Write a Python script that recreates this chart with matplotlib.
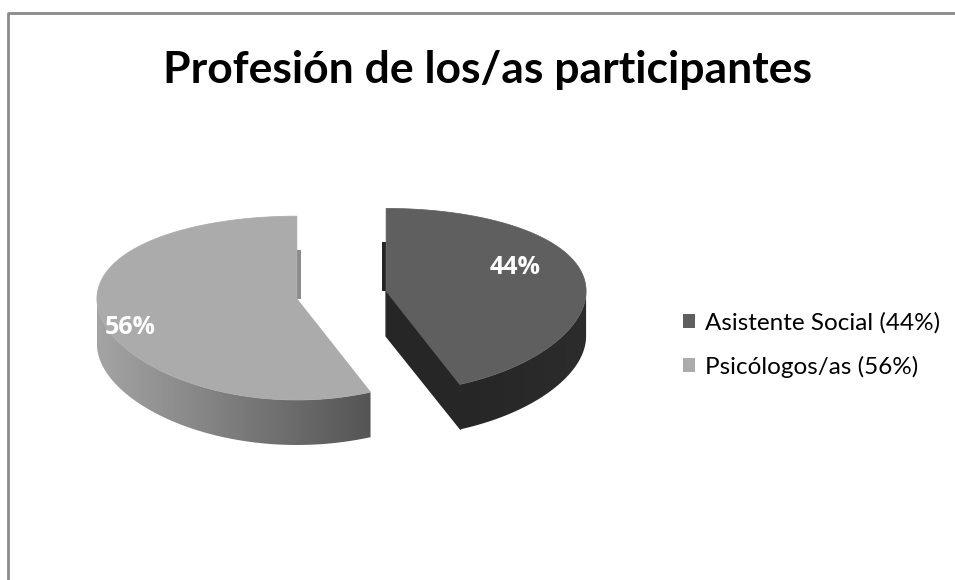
import matplotlib
matplotlib.use("Agg")
import matplotlib.pyplot as plt
from matplotlib.patches import Polygon, Patch
import numpy as np

# data
labels = ["Asistente Social (44%)", "Psicólogos/as (56%)"]
values = [44, 56]
pct_labels = ["44%", "56%"]
title = "Profesión de los/as participantes"

top_colors = ["#5f5f5f", "#ababab"]
side_left = ["#262626", "#a4a4a4"]
side_right = ["#2c2c2c", "#555555"]
cut_colors = ["#262626", "#8c8c8c"]

W, H = 955, 580
fig = plt.figure(figsize=(W / 100, H / 100), dpi=100)
ax = fig.add_axes([0, 0, 1, 1])
ax.set_xlim(0, W)
ax.set_ylim(H, 0)
ax.axis("off")

# pie geometry in pixels (y down), mild perspective: front taller than back
cx, cy = 341.5, 295
a, b = 200, 91
k = 0.1
thick = 45
explode = 0.227


def pt(ox, oy, ang, dz=0.0):
    t = np.radians(ang)
    u, v = np.cos(t), np.sin(t)
    s = 1.0 / (1.0 + k * v)
    return (ox + a * u, oy - b * v * s + dz)


total = float(sum(values))
start = 90.0
slices = []
for i, v in enumerate(values):
    span = 360.0 * v / total
    end = start - span  # clockwise
    mid = np.radians((start + end) / 2)
    ox = cx + explode * a * np.cos(mid)
    oy = cy - explode * b * np.sin(mid)
    slices.append((end, start, ox, oy))
    start = end

for i, (lo, hi, ox, oy) in enumerate(slices):
    c0 = (ox, oy)
    toward = 1 if ox < cx else -1
    # cut face along 12 o'clock, seen as a thin sliver
    twelve = hi if np.isclose(np.sin(np.radians(hi)), 1) else lo
    e0 = pt(ox, oy, twelve)
    sl = [(c0[0], c0[1]), (e0[0], e0[1] + thick * 0.75),
          (e0[0] + 4 * toward, e0[1] + thick * 0.75), (c0[0] + 4 * toward, c0[1])]
    ax.add_patch(Polygon(sl, closed=True, fc=cut_colors[i], ec="none"))

    # outer wall on the front half
    angs = np.linspace(lo, hi, 400)
    front = angs[np.sin(np.radians(angs)) < 0]
    if len(front) > 1:
        topp = [pt(ox, oy, t) for t in front]
        botp = [pt(ox, oy, t, dz=thick) for t in front[::-1]]
        wall = Polygon(topp + botp, closed=True, fc="none", ec="none")
        ax.add_patch(wall)
        xs = [p[0] for p in topp + botp]
        ys = [p[1] for p in topp + botp]
        c1 = np.array(matplotlib.colors.to_rgb(side_left[i]))
        c2 = np.array(matplotlib.colors.to_rgb(side_right[i]))
        f = np.linspace(0, 1, 256)[None, :, None]
        grad = c1 + (c2 - c1) * f
        im = ax.imshow(grad, extent=[min(xs), max(xs), max(ys), min(ys)],
                       aspect="auto", interpolation="bilinear", zorder=1)
        im.set_clip_path(wall)

    # cut face at the clockwise end, when it faces the viewer
    if np.sin(np.radians(lo - 90)) < -0.01:
        e_top = pt(ox, oy, lo)
        e_bot = pt(ox, oy, lo, dz=thick)
        quad = [c0, e_top, (e_bot[0] + 1, e_bot[1]), (c0[0], c0[1] + thick)]
        ax.add_patch(Polygon(quad, closed=True, fc=cut_colors[i], ec=cut_colors[i],
                             lw=1, zorder=2))

    # top face
    tang = np.linspace(lo, hi, 300)
    poly = [c0] + [pt(ox, oy, t) for t in tang]
    ax.add_patch(Polygon(poly, closed=True, fc=top_colors[i], ec=top_colors[i],
                         lw=0.5, zorder=3))

# data labels
ax.text(515, 268, pct_labels[0], color="white", fontsize=18, fontweight="bold",
        ha="center", va="center", family="Open Sans", zorder=4)
ax.text(130, 327, pct_labels[1], color="white", fontsize=18, fontweight="bold",
        ha="center", va="center", family="Open Sans", zorder=4)

# title
ax.text(487, 70, title, fontsize=32, fontweight="bold", ha="center", va="center",
        family="Lato", color="black")

# legend
handles = [Patch(facecolor=c, edgecolor="none") for c in top_colors]
fig.legend(handles, labels, loc="center left", bbox_to_anchor=(661 / W, 1 - 345 / H),
           frameon=False, handlelength=0.5, handleheight=0.5,
           handletextpad=0.4, labelspacing=0.9, prop={"family": "Lato", "size": 17.5})

# outer frame
ax.plot([7.5, 7.5, W], [H, 12.5, 12.5], color="#8a8a8a", lw=2, solid_capstyle="butt")

fig.savefig("out.png", dpi=100)
